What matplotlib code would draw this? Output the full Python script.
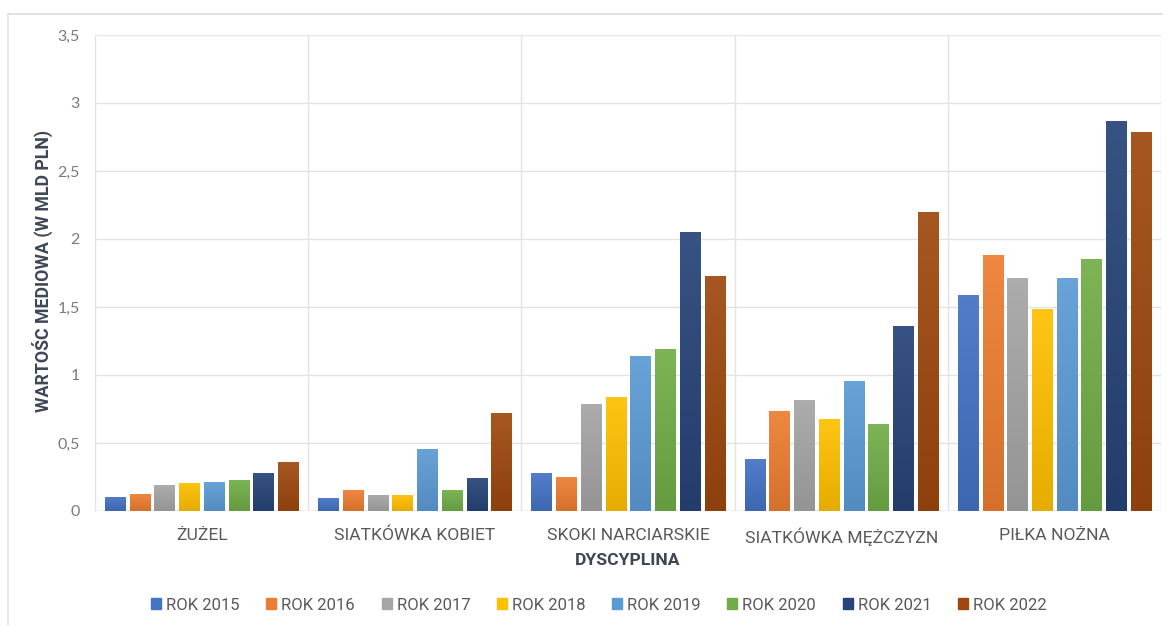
import numpy as np
import matplotlib
matplotlib.use("Agg")
import matplotlib.pyplot as plt
from matplotlib.patches import Rectangle
from matplotlib.colors import to_rgb
from matplotlib.lines import Line2D

# Media value by discipline and year (billion PLN)
disciplines = ["ŻUŻEL", "SIATKÓWKA KOBIET", "SKOKI NARCIARSKIE",
               "SIATKÓWKA MĘŻCZYZN", "PIŁKA NOŻNA"]
years = ["ROK 2015", "ROK 2016", "ROK 2017", "ROK 2018",
         "ROK 2019", "ROK 2020", "ROK 2021", "ROK 2022"]

rok_2015 = [0.105, 0.098, 0.277, 0.38, 1.588]
rok_2016 = [0.127, 0.152, 0.252, 0.737, 1.885]
rok_2017 = [0.19, 0.118, 0.787, 0.816, 1.711]
rok_2018 = [0.206, 0.118, 0.836, 0.674, 1.485]
rok_2019 = [0.21, 0.456, 1.14, 0.958, 1.711]
rok_2020 = [0.228, 0.154, 1.19, 0.637, 1.85]
rok_2021 = [0.28, 0.24, 2.05, 1.362, 2.87]
rok_2022 = [0.36, 0.72, 1.728, 2.2, 2.787]
series = [rok_2015, rok_2016, rok_2017, rok_2018,
          rok_2019, rok_2020, rok_2021, rok_2022]

y_ticks = [0, 0.5, 1, 1.5, 2, 2.5, 3, 3.5]
y_tick_labels = ["0", "0,5", "1", "1,5", "2", "2,5", "3", "3,5"]

colors = ["#4472C4", "#ED7D31", "#A5A5A5", "#FFC000",
          "#5B9BD5", "#70AD47", "#264478", "#9E480E"]

W, H = 1169, 625
fig = plt.figure(figsize=(W / 100, H / 100), dpi=100)
fig.patch.set_facecolor("white")

# light frame along top and left edges of the chart area
fig.add_artist(Line2D([8 / W, 1162 / W], [1 - 14 / H, 1 - 14 / H],
                      color="#dcdcdc", lw=1.2))
fig.add_artist(Line2D([8 / W, 8 / W], [1 - 14 / H, 0],
                      color="#e4e4e4", lw=1.2))

left, right, top, bottom = 95, 1161, 35, 511
ax = fig.add_axes([left / W, 1 - bottom / H, (right - left) / W, (bottom - top) / H])
ax.set_xlim(-0.5, len(disciplines) - 0.5)
ax.set_ylim(0, 3.5)

# grid
for yv in y_ticks:
    ax.axhline(yv, color="#e3e3e3", lw=1.0, zorder=0)
for xv in np.arange(-0.5, len(disciplines), 1.0):
    ax.axvline(xv, color="#e3e3e3", lw=1.0, zorder=0)
ax.axhline(0, color="#d9d9d9", lw=1.0, zorder=1)

for s in ax.spines.values():
    s.set_visible(False)

x = np.arange(len(disciplines))
bar_w = 0.094
step = 0.116


def shade(c, f):
    r, g, b = to_rgb(c)
    if f >= 0:
        return (r + (1 - r) * f, g + (1 - g) * f, b + (1 - b) * f)
    return (r * (1 + f), g * (1 + f), b * (1 + f))


grad = np.linspace(0, 1, 64).reshape(-1, 1)
for i, (vals, col) in enumerate(zip(series, colors)):
    pos = x + (i - 3.5) * step
    bars = ax.bar(pos, vals, width=bar_w, color=col, zorder=2,
                  label=years[i], linewidth=0)
    c_top = np.array(shade(col, 0.08))
    c_bot = np.array(shade(col, -0.10))
    img = c_bot[None, None, :] * (1 - grad[:, :, None]) + c_top[None, None, :] * grad[:, :, None]
    for b in bars:
        bx, by = b.get_x(), b.get_y()
        bw, bh = b.get_width(), b.get_height()
        im = ax.imshow(img, extent=(bx, bx + bw, by, by + bh), origin="lower",
                       aspect="auto", zorder=3, interpolation="bilinear")
        im.set_clip_path(b)

ax.set_xlim(-0.5, len(disciplines) - 0.5)
ax.set_ylim(0, 3.5)

ax.set_yticks(y_ticks)
ax.set_yticklabels(y_tick_labels, fontfamily="Lato", fontsize=11.5, color="#7a7a7a")
ax.set_xticks(x)
ax.set_xticklabels(disciplines, fontfamily="Roboto", fontsize=12.6, color="#595959")
ax.tick_params(axis="both", length=0)
ax.tick_params(axis="y", pad=11)
ax.tick_params(axis="x", pad=12)

ax.set_xlabel("DYSCYPLINA", fontfamily="Roboto", fontweight="bold",
              fontsize=12.6, color="#3f4656", labelpad=5)
fig.text(42 / W, 1 - 271 / H, "WARTOŚC MEDIOWA (W MLD PLN)", rotation=90,
         ha="center", va="center", fontfamily="Roboto", fontweight="bold",
         fontsize=12.8, color="#3f4656")

handles = [Rectangle((0, 0), 1, 1, color=c) for c in colors]
fig.legend(handles, years, loc="center", bbox_to_anchor=(599 / W, 1 - 605 / H),
           ncol=8, frameon=False, handlelength=0.6, handleheight=0.6,
           handletextpad=0.3, columnspacing=1.6,
           prop={"family": "Roboto", "size": 12}, labelcolor="#595959")

fig.savefig("out.png", dpi=100, facecolor="white")
